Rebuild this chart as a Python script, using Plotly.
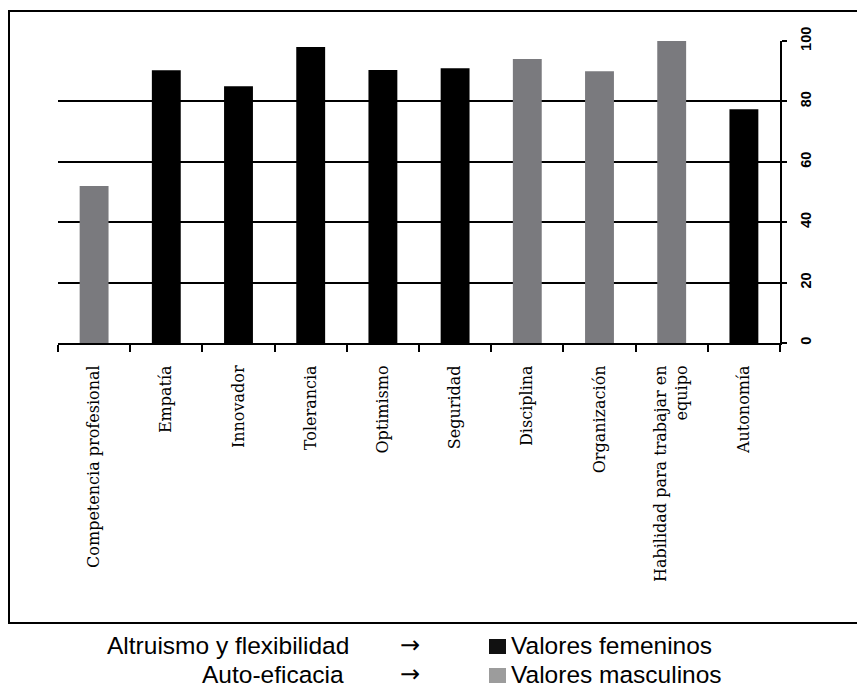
import plotly.graph_objects as go

categories = [
    "Competencia profesional", "Empatía", "Innovador", "Tolerancia", "Optimismo",
    "Seguridad", "Disciplina", "Organización", "Habilidad para trabajar en<br>equipo", "Autonomía",
]
values = [52, 90.3, 85, 98, 90.4, 91, 94, 90, 100, 77.4]
groups = ["masculino", "femenino", "femenino", "femenino", "femenino",
          "femenino", "masculino", "masculino", "masculino", "femenino"]
y_ticks = [0, 20, 40, 60, 80, 100]
legend_rows = [("Altruismo y flexibilidad", "Valores femeninos"),
               ("Auto-eficacia", "Valores masculinos")]

BAR_COLORS = {"femenino": "#000000", "masculino": "#7a7a7e"}
LEG_COLORS = ["#111111", "#9c9c9c"]

OFF = 8  # page body margin
# plot area in screen pixels
L, R, T, B = 58, 780, 41, 343
W, H = 865 - OFF, 688 - OFF

def px_x(px):
    return (px - L) / (R - L)

def px_y(py):
    return (B - py) / (B - T)

fig = go.Figure()
fig.add_trace(go.Bar(
    x=categories, y=values,
    marker=dict(color=[BAR_COLORS[g] for g in groups], line=dict(width=0)),
    width=0.4, showlegend=False,
))

fig.update_layout(
    width=W, height=H,
    margin=dict(l=L - OFF, r=W - (R - OFF), t=T - OFF, b=H - (B - OFF), pad=0),
    paper_bgcolor="white", plot_bgcolor="white",
    xaxis=dict(
        type="category", showgrid=False, showline=True, linecolor="black", linewidth=2,
        ticks="outside", ticklen=7, tickwidth=1.5, tickcolor="black", tickson="boundaries",
        tickangle=-90, tickfont=dict(family="DejaVu Serif", size=16, color="black"),
        ticklabelstandoff=14, range=[-0.5, 9.5],
    ),
    yaxis=dict(
        side="right", range=[0, 100], tickvals=y_ticks, ticktext=[str(v) for v in y_ticks],
        showgrid=True, gridcolor="black", gridwidth=1.5, zeroline=False,
        showline=True, linecolor="black", linewidth=2,
        ticks="outside", ticklen=5, tickwidth=1.5, tickcolor="black",
        tickangle=-90, tickfont=dict(family="Liberation Sans", size=14.5, color="black", weight="bold"),
        ticklabelstandoff=7,
    ),
)

# outer frame
fig.add_shape(type="rect", xref="paper", yref="paper",
              x0=px_x(9), x1=px_x(880), y0=px_y(623), y1=px_y(11),
              line=dict(color="black", width=2), fillcolor="rgba(0,0,0,0)", layer="above")

row_y = [645, 674]
left_x = [105, 200]
for i, (left, right) in enumerate(legend_rows):
    yc = px_y(row_y[i])
    fig.add_annotation(xref="paper", yref="paper", x=px_x(left_x[i]), y=yc,
                       text=left, showarrow=False, xanchor="left", yanchor="middle",
                       font=dict(family="Liberation Sans", size=24.5, color="black"))
    fig.add_annotation(xref="paper", yref="paper", x=px_x(410), y=yc,
                       text="→", showarrow=False, xanchor="center", yanchor="middle",
                       font=dict(family="DejaVu Sans", size=24, color="black"))
    fig.add_shape(type="rect", xref="paper", yref="paper",
                  x0=px_x(489), x1=px_x(506), y0=px_y(row_y[i] + 9), y1=px_y(row_y[i] - 6),
                  line=dict(width=0), fillcolor=LEG_COLORS[i])
    fig.add_annotation(xref="paper", yref="paper", x=px_x(509), y=yc,
                       text=right, showarrow=False, xanchor="left", yanchor="middle",
                       font=dict(family="Liberation Sans", size=24.5, color="black"))

fig.write_html("out.html")
